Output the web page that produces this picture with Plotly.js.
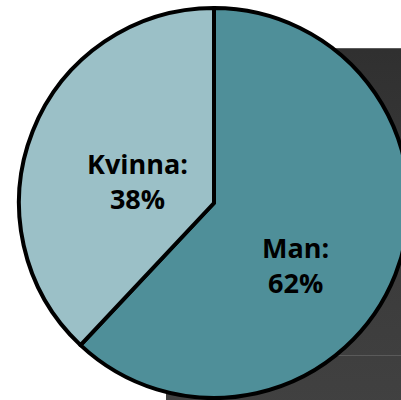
<!DOCTYPE html>
<html>
<head>
<meta charset="utf-8">
<script src="https://cdn.plot.ly/plotly-3.0.1.min.js"></script>
<style>
  html, body { margin: 0; padding: 0; overflow: hidden; background: #ffffff; width: 401px; height: 400px; }
  #bg { position: absolute; left: 166px; top: 48px; width: 260px; height: 360px;
        background: linear-gradient(#303030, #3a3a3a 50%, #414141);
        border-top: 1px solid #5c5c5c; }
  #bgline { position: absolute; left: 166px; top: 355px; width: 260px; height: 1px; background: #5a5a5a; }
  #chart { position: absolute; left: 0; top: 0; }
</style>
</head>
<body>
<div id="bg"></div>
<div id="bgline"></div>
<div id="chart"></div>
<script>
const labels = ["Man", "Kvinna"];
const values = [62, 38];
const colors = ["#4f8f99", "#9bc0c7"];

// label placement style (radius in px from centre, angle nudge in degrees)
const labelStyle = { radius: [102, 80], angleNudge: [15.8, -5.6] };

const W = 420, H = 400;
const domX = [19 / W, 409 / W], domY = [2 / H, 392 / H];

const trace = {
  type: "pie",
  labels: labels,
  values: values,
  sort: false,
  direction: "clockwise",
  rotation: 0,
  marker: { colors: colors, line: { color: "#000000", width: 4 } },
  textinfo: "none",
  hoverinfo: "none",
  showlegend: false,
  domain: { x: domX, y: domY }
};

// labels placed along each slice's mid-angle, derived from the values
const total = values.reduce((a, b) => a + b, 0);
const cx = (domX[0] + domX[1]) / 2 * W;
const cyUp = (domY[0] + domY[1]) / 2 * H;
let cum = 0;
const annotations = values.map((v, i) => {
  const mid = (cum + v / 2) / total * 360 + labelStyle.angleNudge[i];
  cum += v;
  const rad = mid * Math.PI / 180;
  const px = cx + labelStyle.radius[i] * Math.sin(rad);
  const py = cyUp + labelStyle.radius[i] * Math.cos(rad);
  return {
    xref: "paper", yref: "paper",
    x: px / W, y: py / H,
    xanchor: "center", yanchor: "middle",
    showarrow: false,
    align: "center",
    text: labels[i] + ":<br>" + Math.round(v / total * 100) + "%",
    font: { family: "Open Sans", size: 27, weight: "bold", color: "#000000" }
  };
});

const layout = {
  width: W,
  height: H,
  margin: { l: 0, r: 0, t: 0, b: 0, pad: 0 },
  paper_bgcolor: "rgba(0,0,0,0)",
  plot_bgcolor: "rgba(0,0,0,0)",
  showlegend: false,
  annotations: annotations
};

Plotly.newPlot("chart", [trace], layout, { displayModeBar: false, staticPlot: true });
</script>
</body>
</html>
